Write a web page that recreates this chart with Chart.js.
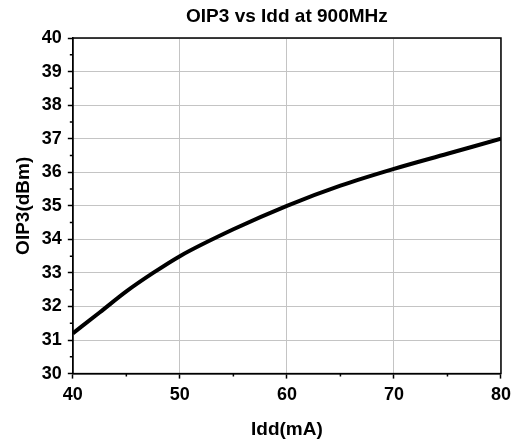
<!DOCTYPE html>
<html>
<head>
<meta charset="utf-8">
<script src="https://cdn.jsdelivr.net/npm/chart.js@4/dist/chart.umd.min.js"></script>
<style>
  html, body { margin: 0; padding: 0; background: #fff; }
  #wrap { width: 517px; height: 441px; }
</style>
</head>
<body>
<div id="wrap"><canvas id="oip3Chart" width="517" height="441"></canvas></div>
<script>
// drain current (mA) and measured OIP3 (dBm) at 900 MHz
const iddValues = [40, 42.5, 45, 47.5, 50, 55, 60, 65, 70, 75, 80];
const oip3Values = [31.2, 31.82, 32.45, 33.0, 33.5, 34.3, 35.0, 35.6, 36.1, 36.55, 37.0];

const chartTitle = "OIP3 vs Idd at 900MHz";
const xTitle = "Idd(mA)";
const yTitle = "OIP3(dBm)";

const FONT = "'Liberation Sans', Arial, sans-serif";
const MINOR_LEN = 3;

function isMajor(value, step) {
    return Math.abs(value / step - Math.round(value / step)) < 1e-6;
}

// title centered over the plot, closed frame, short minor ticks
const framePlugin = {
    id: "frame",
    afterDatasetsDraw(chart) {
        const a = chart.chartArea;
        const ctx = chart.ctx;
        ctx.save();
        ctx.strokeStyle = "#000";
        ctx.lineWidth = 1.5;
        ctx.strokeRect(a.left, a.top, a.right - a.left, a.bottom - a.top);

        ctx.lineWidth = 1.5;
        ctx.beginPath();
        chart.scales.x.ticks.forEach(t => {
            if (isMajor(t.value, 10)) return;
            const px = chart.scales.x.getPixelForValue(t.value);
            ctx.moveTo(px, a.bottom);
            ctx.lineTo(px, a.bottom + MINOR_LEN);
        });
        chart.scales.y.ticks.forEach(t => {
            if (isMajor(t.value, 1)) return;
            const py = chart.scales.y.getPixelForValue(t.value);
            ctx.moveTo(a.left, py);
            ctx.lineTo(a.left - MINOR_LEN, py);
        });
        ctx.stroke();

        ctx.fillStyle = "#000";
        ctx.font = "bold 19px " + FONT;
        ctx.textAlign = "center";
        ctx.textBaseline = "middle";
        ctx.fillText(chartTitle, (a.left + a.right) / 2, 17);
        ctx.restore();
    }
};

const ctx = document.getElementById("oip3Chart").getContext("2d");

new Chart(ctx, {
    type: "line",
    data: {
        labels: iddValues,
        datasets: [{
            data: iddValues.map((x, i) => ({ x: x, y: oip3Values[i] })),
            borderColor: "#000",
            borderWidth: 4,
            pointRadius: 0,
            cubicInterpolationMode: "monotone",
            fill: false
        }]
    },
    options: {
        responsive: false,
        animation: false,
        layout: {
            padding: { left: 8, right: 16, top: 38, bottom: 0 }
        },
        plugins: {
            legend: { display: false },
            title: { display: false },
            tooltip: { enabled: false }
        },
        scales: {
            x: {
                type: "linear",
                min: 40,
                max: 80,
                border: { color: "#000", width: 1.5 },
                grid: {
                    color: c => isMajor(c.tick.value, 10) ? "#c4c4c4" : "rgba(0,0,0,0)",
                    tickColor: c => isMajor(c.tick.value, 10) ? "#000" : "rgba(0,0,0,0)",
                    tickLength: 5,
                    tickWidth: 1.5
                },
                ticks: {
                    stepSize: 5,
                    autoSkip: false,
                    maxRotation: 0,
                    padding: 6,
                    color: "#000",
                    font: { family: FONT, size: 18, weight: "bold" },
                    callback: v => isMajor(v, 10) ? v : ""
                },
                title: {
                    display: true,
                    text: xTitle,
                    color: "#000",
                    font: { family: FONT, size: 19, weight: "bold" },
                    padding: { top: 6, bottom: 0 }
                }
            },
            y: {
                min: 30,
                max: 40,
                border: { color: "#000", width: 1.5 },
                grid: {
                    color: c => isMajor(c.tick.value, 1) ? "#c4c4c4" : "rgba(0,0,0,0)",
                    tickColor: c => isMajor(c.tick.value, 1) ? "#000" : "rgba(0,0,0,0)",
                    tickLength: 5,
                    tickWidth: 1.5
                },
                ticks: {
                    stepSize: 0.5,
                    autoSkip: false,
                    padding: 6,
                    color: "#000",
                    font: { family: FONT, size: 18, weight: "bold" },
                    callback: v => isMajor(v, 1) ? v : ""
                },
                title: {
                    display: true,
                    text: yTitle,
                    color: "#000",
                    font: { family: FONT, size: 19, weight: "bold" },
                    padding: { top: 4, bottom: 1 }
                }
            }
        }
    },
    plugins: [framePlugin]
});
</script>
</body>
</html>
